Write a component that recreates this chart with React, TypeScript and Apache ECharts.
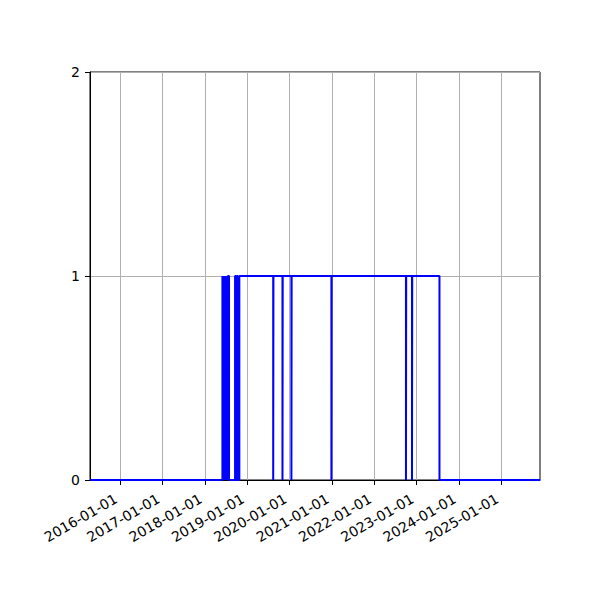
import { useRef, useEffect } from 'react'
import * as echarts from 'echarts'

// dates where the state changes, and the state held from that date on
const changeDates = [
  '2015-04-15', '2018-05-31', '2018-06-04', '2018-06-08', '2018-06-13',
  '2018-06-17', '2018-06-23', '2018-06-27', '2018-07-03', '2018-07-07',
  '2018-07-13', '2018-07-17', '2018-07-27', '2018-09-17', '2018-09-25',
  '2018-10-05', '2018-10-12', '2018-10-24', '2019-08-12', '2019-08-14',
  '2019-10-31', '2019-11-02', '2020-01-16', '2020-01-18', '2020-12-26',
  '2020-12-28', '2022-09-30', '2022-10-02', '2022-11-21', '2022-11-23',
  '2023-07-16', '2025-11-29',
]
const changeValues = [
  0, 1, 0, 1, 0,
  1, 0, 1, 0, 1,
  0, 1, 0, 1, 0,
  1, 0, 1, 0, 1,
  0, 1, 0, 1, 0,
  1, 0, 1, 0, 1,
  0, 0,
]
const tickYears = [2016, 2017, 2018, 2019, 2020, 2021, 2022, 2023, 2024, 2025]

const xMin = '2015-04-15'
const xMax = '2025-11-29'

const toTime = (s: string) => new Date(s + 'T00:00:00').getTime()
const pad = (n: number) => (n < 10 ? '0' + n : '' + n)
const fmtDate = (v: number) => {
  const d = new Date(v)
  return `${d.getFullYear()}-${pad(d.getMonth() + 1)}-${pad(d.getDate())}`
}

export default function App() {
  const chartRef = useRef<HTMLDivElement>(null)

  useEffect(() => {
    if (!chartRef.current) return
    const chart = echarts.init(chartRef.current, undefined, { renderer: 'svg' })
    const tickValues = tickYears.map((y) => new Date(y, 0, 1).getTime())
    const font = 'DejaVu Sans'

    chart.setOption({
      animation: false,
      backgroundColor: '#fff',
      textStyle: { fontFamily: font },
      grid: {
        left: 90,
        right: 60,
        top: 72,
        bottom: 120,
        show: true,
        borderColor: '#000',
        borderWidth: 1,
        backgroundColor: 'transparent',
      },
      xAxis: {
        type: 'value',
        min: toTime(xMin),
        max: toTime(xMax),
        axisLine: { show: true, onZero: false, lineStyle: { color: '#000', width: 1 } },
        axisTick: {
          show: true,
          length: 5,
          customValues: tickValues,
          lineStyle: { color: '#000', width: 1 },
        },
        axisLabel: {
          customValues: tickValues,
          formatter: (v: number) => fmtDate(v),
          rotate: 30,
          margin: 15,
          padding: [0, 5, 0, 0],
          color: '#000',
          fontSize: 14,
          fontFamily: font,
        },
        splitLine: { show: true, lineStyle: { color: '#b0b0b0', width: 1 } },
      },
      yAxis: {
        type: 'value',
        min: 0,
        max: 2,
        interval: 1,
        axisLine: { show: true, lineStyle: { color: '#000', width: 1 } },
        axisTick: { show: true, length: 5, lineStyle: { color: '#000', width: 1 } },
        axisLabel: {
          color: '#000',
          fontSize: 14,
          fontFamily: font,
          margin: 10,
        },
        splitLine: { show: true, lineStyle: { color: '#b0b0b0', width: 1 } },
      },
      series: [
        {
          type: 'line',
          step: 'end',
          showSymbol: false,
          symbol: 'none',
          data: changeDates.map((d, i) => [toTime(d), changeValues[i]]),
          lineStyle: { color: '#0000ff', width: 2 },
          itemStyle: { color: '#0000ff' },
          z: 1,
        },
      ],
    })

    return () => chart.dispose()
  }, [])

  return (
    <div
      ref={chartRef}
      style={{ position: 'fixed', left: 0, top: 0, width: 600, height: 600, background: '#fff' }}
    />
  )
}
